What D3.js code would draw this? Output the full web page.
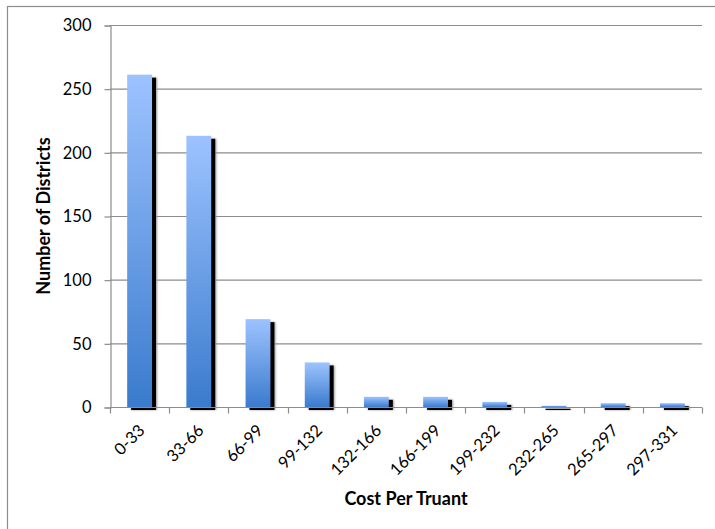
<!DOCTYPE html>
<html>
<head>
<meta charset="utf-8">
<script src="https://cdn.jsdelivr.net/npm/d3@7/dist/d3.min.js"></script>
<style>
  html, body { margin: 0; padding: 0; background: #fff; }
  svg { display: block; font-family: Lato, "Open Sans", sans-serif; }
</style>
</head>
<body>
<svg id="chart" width="715" height="529"></svg>
<script>
// Histogram of districts by cost per truant
const categories = ["0-33", "33-66", "66-99", "99-132", "132-166", "166-199", "199-232", "232-265", "265-297", "297-331"];
const districtCounts = [261, 213, 69, 35, 8, 8, 4, 1, 3, 3];
const yTicks = [0, 50, 100, 150, 200, 250, 300];

const svg = d3.select("#chart");
const margin = { left: 110, right: 13, top: 25, bottom: 122 };
const W = 715, H = 529;

const x = d3.scaleBand()
  .domain(categories)
  .range([margin.left, W - margin.right])
  .paddingInner(0.58)
  .paddingOuter(0.29);

const y = d3.scaleLinear()
  .domain([0, 300])
  .range([H - margin.bottom, margin.top]);

// outer chart frame
svg.append("rect")
  .attr("x", 7.5).attr("y", 6.5)
  .attr("width", 730).attr("height", 540)
  .attr("fill", "none").attr("stroke", "#8c8c8c").attr("stroke-width", 1.2);

const defs = svg.append("defs");
const grad = defs.append("linearGradient")
  .attr("id", "barFill").attr("x1", 0).attr("y1", 0).attr("x2", 0).attr("y2", 1);
grad.append("stop").attr("offset", "0%").attr("stop-color", "#9dc3ff");
grad.append("stop").attr("offset", "100%").attr("stop-color", "#3a7bcd");

const blur = defs.append("filter").attr("id", "soft")
  .attr("x", "-50%").attr("y", "-50%").attr("width", "200%").attr("height", "200%");
blur.append("feGaussianBlur").attr("stdDeviation", 0.9);

// horizontal gridlines
svg.append("g")
  .selectAll("line")
  .data(yTicks.filter(d => d > 0))
  .join("line")
  .attr("x1", margin.left).attr("x2", W - margin.right)
  .attr("y1", d => y(d) + 0.5).attr("y2", d => y(d) + 0.5)
  .attr("stroke", "#8c8c8c").attr("stroke-width", 1.2);

// y axis
const yAxis = svg.append("g")
  .attr("transform", `translate(${margin.left + 0.5},0.5)`)
  .call(d3.axisLeft(y).tickValues(yTicks).tickSize(6).tickPadding(13));
yAxis.select(".domain").attr("stroke", "#8c8c8c").attr("stroke-width", 1.2);
yAxis.selectAll(".tick line").attr("stroke", "#8c8c8c").attr("stroke-width", 1.2);
yAxis.selectAll("text").attr("font-size", 16.5).attr("fill", "#000")
  .attr("font-family", "Lato, 'Open Sans', sans-serif");

// bar shadows
const barG = svg.append("g");
barG.selectAll("rect.halo")
  .data(categories)
  .join("rect")
  .attr("class", "halo")
  .attr("x", d => x(d) + 4)
  .attr("y", (d, i) => y(districtCounts[i]) + 3)
  .attr("width", x.bandwidth() + 1)
  .attr("height", (d, i) => y(0) - y(districtCounts[i]))
  .attr("fill", "#999")
  .attr("filter", "url(#soft)");
barG.selectAll("rect.shadow")
  .data(categories)
  .join("rect")
  .attr("class", "shadow")
  .attr("x", d => x(d) + 4)
  .attr("y", (d, i) => y(districtCounts[i]) + 3)
  .attr("width", x.bandwidth())
  .attr("height", (d, i) => y(0) - y(districtCounts[i]))
  .attr("fill", "#000");

// bars
barG.selectAll("rect.bar")
  .data(categories)
  .join("rect")
  .attr("class", "bar")
  .attr("x", d => x(d))
  .attr("y", (d, i) => y(districtCounts[i]))
  .attr("width", x.bandwidth())
  .attr("height", (d, i) => y(0) - y(districtCounts[i]))
  .attr("fill", "url(#barFill)");

// x axis with ticks at category boundaries
const xAxisG = svg.append("g").attr("transform", `translate(0,${y(0) + 0.5})`);
const step = x.step();
const boundaries = d3.range(categories.length + 1).map(i => margin.left + i * step);
xAxisG.append("line")
  .attr("x1", margin.left).attr("x2", W - margin.right)
  .attr("stroke", "#8c8c8c").attr("stroke-width", 1.2);
xAxisG.selectAll("line.tick")
  .data(boundaries)
  .join("line")
  .attr("class", "tick")
  .attr("x1", d => Math.round(d) + 0.5).attr("x2", d => Math.round(d) + 0.5)
  .attr("y1", 0).attr("y2", 6)
  .attr("stroke", "#8c8c8c").attr("stroke-width", 1.2);
xAxisG.selectAll("text")
  .data(categories)
  .join("text")
  .attr("transform", d => `translate(${x(d) + x.bandwidth() / 2 + 2},${20}) rotate(-45)`)
  .attr("text-anchor", "end")
  .attr("dy", "0.35em")
  .attr("font-size", 16.5)
  .attr("fill", "#000")
  .text(d => d);

// axis titles
svg.append("text")
  .attr("x", (margin.left + W - margin.right) / 2)
  .attr("y", 505)
  .attr("text-anchor", "middle")
  .attr("font-size", 18)
  .attr("font-weight", "bold")
  .text("Cost Per Truant");

svg.append("text")
  .attr("transform", `translate(50,${(y(0) + y(300)) / 2}) rotate(-90)`)
  .attr("text-anchor", "middle")
  .attr("font-size", 18)
  .attr("font-weight", "bold")
  .text("Number of Districts");
</script>
</body>
</html>
